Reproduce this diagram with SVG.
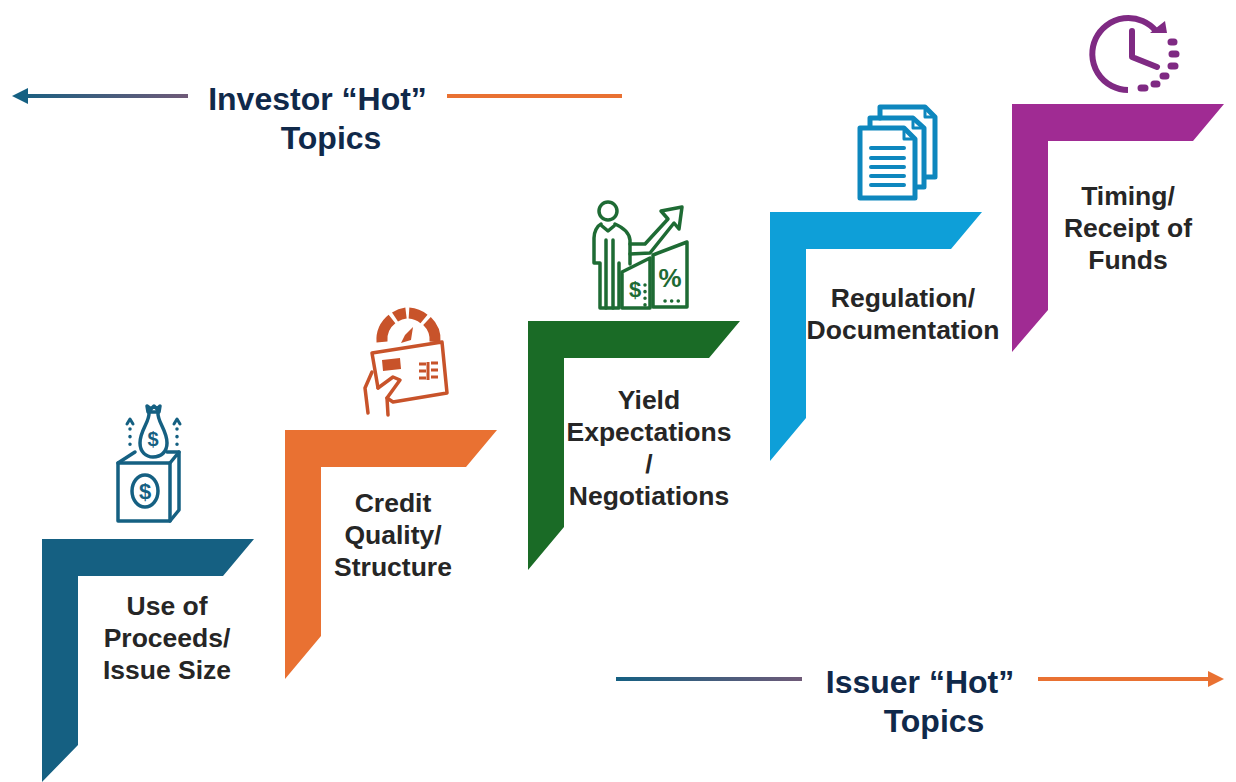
<svg xmlns="http://www.w3.org/2000/svg" width="1236" height="782" viewBox="0 0 1236 782">
<style>
text{font-family:"Liberation Sans",Arial,sans-serif;font-weight:700;text-anchor:middle}
.lab{font-size:26.500px;fill:#262626}
.tt{font-size:32px;fill:#10294a}
.i{fill:none;stroke-linecap:round;stroke-linejoin:round}
</style>
<defs>
<linearGradient id="gl" gradientUnits="userSpaceOnUse" x1="12" y1="0" x2="187" y2="0"><stop offset="0" stop-color="#156082"/><stop offset="1" stop-color="#6f5a78"/></linearGradient>
<linearGradient id="gl2" gradientUnits="userSpaceOnUse" x1="616" y1="0" x2="802" y2="0"><stop offset="0" stop-color="#156082"/><stop offset="1" stop-color="#6f5a78"/></linearGradient>
</defs>
<g id="connectors">
<rect x="28" y="94" width="160" height="4" fill="url(#gl)"/>
<path d="M12 96 28 88V104Z" fill="#156082"/>
<rect x="447" y="94" width="175" height="4" fill="#e97132"/>
<rect x="616" y="677" width="186" height="4" fill="url(#gl2)"/>
<rect x="1038" y="677" width="172" height="4" fill="#e97132"/>
<path d="M1224 679 1208 671V687Z" fill="#e97132"/>
</g>
<g id="title-investor"><text class="tt" x="317.500" y="110">Investor “Hot”</text><text class="tt" x="331" y="149">Topics</text></g>
<g id="title-issuer"><text class="tt" x="920" y="693">Issuer “Hot”</text><text class="tt" x="934" y="732">Topics</text></g>
<g id="step1">
<path d="M42 539H254L223 576H78V745L42 782Z" fill="#156082"/>
<text class="lab" x="167" y="615">Use of</text><text class="lab" x="167" y="647">Proceeds/</text><text class="lab" x="167" y="679">Issue Size</text>
<g class="i" stroke="#156082" stroke-width="3.500">
<path d="M118 463H170V521H118Z"/><path d="M170 463 179 452V510L170 521"/><path d="M118 463 135 452"/><path d="M167 452H179"/>
<ellipse cx="145" cy="491" rx="13" ry="16"/>
<path d="M149 412C150 422 140 430 140 443C140 452 146 457 153 457C161 457 167 452 167 443C167 430 157 422 158 412"/><path d="M147 406 151 409 154 406 157 409 160 406 159 412H148Z"/>
<path d="M127 424 130 419 133 424M174 424 177 419 180 424" stroke-width="3"/>
<path d="M130 429V446M177 429V446" stroke-dasharray="0.100 7.500" stroke-width="3.500"/>
</g>
<text x="145" y="499" font-size="22" fill="#156082">$</text>
<text x="153" y="446" font-size="20" fill="#156082">$</text>
</g>
<g id="step2">
<path d="M285 430H497L466 467H321V636L285 679Z" fill="#e97132"/>
<text class="lab" x="393" y="512">Credit</text><text class="lab" x="393" y="544">Quality/</text><text class="lab" x="393" y="576">Structure</text>
<g class="i" stroke="#c8532a">
<path d="M382 342A26 26 0 0 1 392 319" stroke-width="11" stroke-linecap="butt"/>
<path d="M395 317A26 26 0 0 1 406 313" stroke-width="11" stroke-linecap="butt"/>
<path d="M409 313A26 26 0 0 1 424 319" stroke-width="11" stroke-linecap="butt"/>
<path d="M427 321A26 26 0 0 1 435 342" stroke-width="11" stroke-linecap="butt"/>
<path d="M378 388 372 353 442 342 447 393 393 402 387 398" stroke-width="3.500"/>
<path d="M378 388 393 377 400 380 387 398 388 415M372 372 365 388 368 413" stroke-width="3.500"/>
<path d="M419 364H426M419 371H426M419 378H426M431 363H438M431 370H438M431 377H438M428 362V380" stroke-width="3" stroke-linecap="butt"/>
</g>
<path d="M401 343 411 340 413 327 405 335Z" fill="#c8532a"/>
<path d="M382 360 400 358 401 369 383 371Z" fill="#c8532a"/>
</g>
<g id="step3">
<path d="M528 321H740L709 358H564V527L528 570Z" fill="#1a6b26"/>
<text class="lab" x="649" y="409">Yield</text><text class="lab" x="649" y="441">Expectations</text><text class="lab" x="649" y="473">/</text><text class="lab" x="649" y="505">Negotiations</text>
<g class="i" stroke="#1e6b34" stroke-width="3.500">
<circle cx="608" cy="211" r="9"/>
<path d="M601 224C597 226 594 232 594 238V263H600V308H619V263"/>
<path d="M615 224C622 227 629 231 630 240V264"/>
<path d="M630 244H645L668 219 661 211 682 207 679 229 674 223 650 253 630 254"/>
<path d="M602 226 608 231 614 226M606 240V308M613 240V308"/>
<path d="M622 272 650 258V308H622Z"/>
<path d="M653 255 687 242V307H653Z"/>
</g>
<text x="635" y="297" font-size="22" fill="#1e6b34">$</text>
<text x="670" y="287" font-size="26" fill="#1e6b34">%</text>
<path d="M645 285V305M665 301H682" fill="none" stroke="#1e6b34" stroke-width="3.500" stroke-linecap="round" stroke-dasharray="0.100 6.500"/>
</g>
<g id="step4">
<path d="M770 212H982L951 249H806V418L770 461Z" fill="#0e9fd8"/>
<text class="lab" x="903" y="307">Regulation/</text><text class="lab" x="903" y="339">Documentation</text>
<g class="i" stroke="#0e87be" stroke-width="5" stroke-linecap="butt" stroke-linejoin="miter">
<path d="M880 118V107H925L935 117V177H926" fill="none"/><path d="M925 107V117H935" stroke-width="3"/>
<path d="M870 128V118H913L924 128V187H916" fill="none"/><path d="M913 118V128H924" stroke-width="3"/>
<path d="M860 128H904L915 139V198H860Z" fill="#fff"/>
<path d="M904 128V139H915" stroke-width="3"/>
<path d="M871 148H904M871 158H904M871 167H904M871 176H904M871 185H904" stroke-width="4"/>
</g>
</g>
<g id="step5">
<path d="M1012 104H1224L1193 141H1048V310L1012 352Z" fill="#a02b93"/>
<text class="lab" x="1128" y="205">Timing/</text><text class="lab" x="1128" y="237">Receipt of</text><text class="lab" x="1128" y="269">Funds</text>
<g class="i" stroke="#7f2a83" stroke-width="6">
<path d="M1156 31A36 36 0 1 0 1128 90" stroke-linecap="butt"/>
<path d="M1132 31V57L1157 67"/>
<path d="M1171 42H1174M1172 54H1176M1171 66H1175M1163 76H1166M1154 84H1157M1141 88H1145" stroke-width="7"/>
</g>
<path d="M1165 21 1167 33 1150 33 1156 28Z" fill="#7f2a83"/>
</g>
</svg>
